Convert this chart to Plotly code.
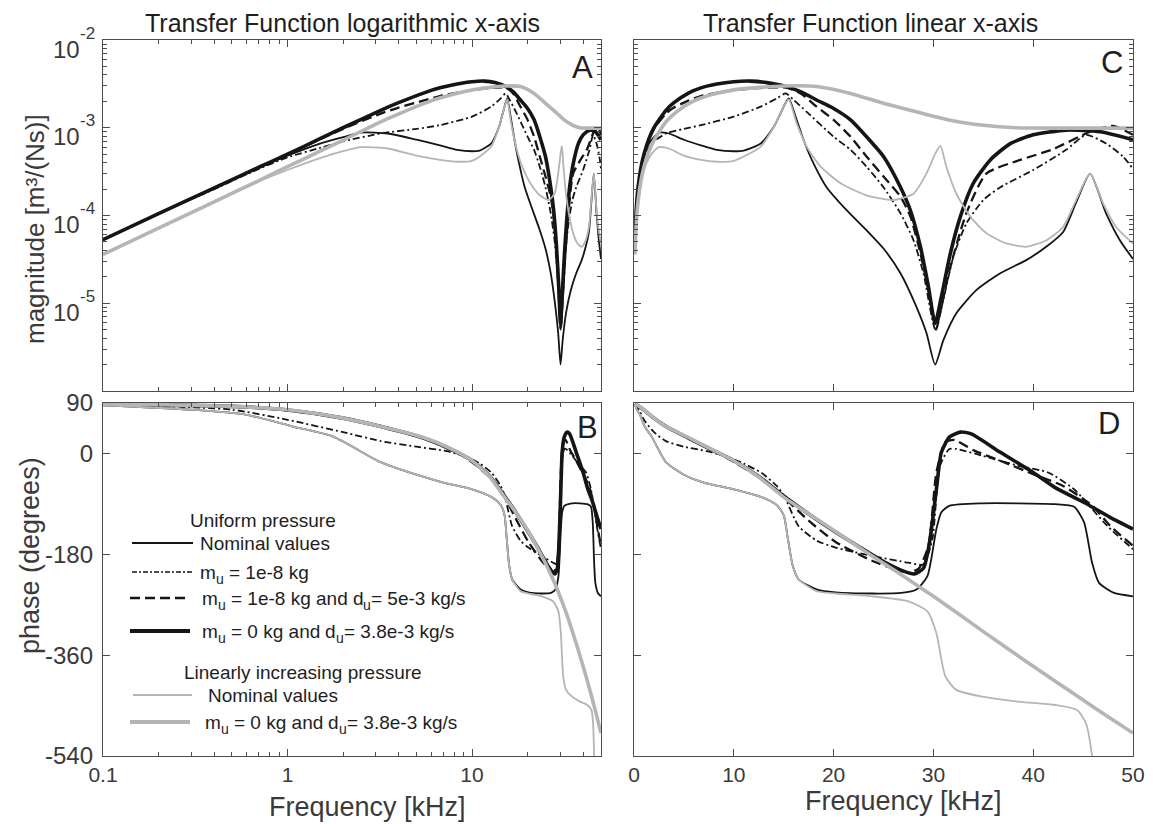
import math
import plotly.graph_objects as go

# ---------------------------------------------------------------
# Frequency response of the membrane model, frequency in kHz.
# Magnitude in m^3/(Ns), phase in degrees.
# ---------------------------------------------------------------

# Uniform pressure, nominal values
F_MAG_UNI_NOM = [0.1, 0.2, 0.4, 0.7, 1.0, 1.5, 2.0, 2.5, 3.5, 5.0, 6.7, 8.3, 10.0, 11.0, 12.7,
                 14.0, 15.0, 15.5, 16.3, 17.0, 18.0, 19.3, 21.3, 23.3, 25.0, 26.7, 28.3, 29.3,
                 30.17, 31.0, 32.3, 34.3, 36.7, 39.3, 41.3, 43.0, 44.3, 45.7, 47.3, 48.7, 50.0]
MAG_UNI_NOM = [5.3e-5, 1.05e-4, 2.1e-4, 3.5e-4, 4.8e-4, 6.6e-4, 7.8e-4, 8.8e-4, 8.6e-4, 7.3e-4,
               6.3e-4, 5.6e-4, 5.4e-4, 5.5e-4, 6.6e-4, 1.02e-3, 1.74e-3, 2.16e-3, 1.23e-3, 7.2e-4,
               3.9e-4, 2.1e-4, 1.15e-4, 6.8e-5, 4.2e-5, 2.2e-5, 9.1e-6, 4.6e-6, 2.0e-6, 3.8e-6,
               7.7e-6, 1.41e-5, 2.2e-5, 3.1e-5, 4.4e-5, 6.5e-5, 1.4e-4, 3.0e-4, 1.06e-4, 5.2e-5,
               3.2e-5]
F_PH_UNI_NOM = [0.1, 0.3, 0.6, 1.07, 1.77, 3.17, 5.0, 7.0, 10.0, 12.8, 14.3, 15.0, 15.4, 15.9,
                16.5, 18.35, 20.2, 23.9, 26.8, 28.3, 29.4, 30.3, 30.8, 31.6, 34.9, 38.5, 42.2,
                44.1, 45.1, 45.9, 46.6, 48.1, 50.0]
PH_UNI_NOM = [86, 78, 69, 48, 30, -15, -38, -52, -64, -78, -92, -110, -150, -200, -225, -243,
              -248, -250, -249, -243, -219, -135, -105, -93.5, -89, -89, -90.5, -95, -123, -195,
              -231, -249, -255]

# Uniform pressure, m_u = 1e-8 kg
F_MAG_UNI_M8 = [0.1, 0.2, 0.4, 0.7, 1.0, 1.5, 2.0, 3.3, 5.0, 6.7, 10.0, 12.7, 14.3, 15.2, 16.0,
                17.3, 20.0, 21.7, 23.3, 25.0, 26.7, 28.0, 29.0, 30.2, 31.0, 32.0, 33.3, 35.0,
                36.7, 40.0, 43.3, 45.3, 47.3, 49.0, 50.0]
MAG_UNI_M8 = [5.3e-5, 1.05e-4, 2.0e-4, 3.4e-4, 4.6e-4, 5.9e-4, 7.0e-4, 8.7e-4, 9.7e-4, 1.07e-3,
              1.34e-3, 1.74e-3, 2.16e-3, 2.46e-3, 2.07e-3, 1.52e-3, 7.9e-4, 5.6e-4, 3.6e-4,
              2.1e-4, 1.06e-4, 5.25e-5, 2.2e-5, 5.0e-6, 1.1e-5, 3.4e-5, 8.1e-5, 1.5e-4, 2.1e-4,
              3.3e-4, 5.6e-4, 8.3e-4, 6.6e-4, 4.7e-4, 3.4e-4]
F_PH_UNI_M8 = [0.1, 0.5, 1.0, 2.0, 3.2, 5.0, 7.3, 9.2, 11.0, 12.8, 14.3, 15.05, 16.5, 18.35,
               20.2, 23.9, 27.5, 29.0, 29.9, 30.65, 31.6, 32.3, 34.9, 38.5, 41.5, 44.1, 45.9,
               47.4, 50.0]
PH_UNI_M8 = [88, 78, 60, 38, 22, 12, 4, -5, -18, -35, -58, -76, -130, -156, -168, -183, -195,
             -198, -153, -22, 8, 8, -4, -22, -34, -64, -99, -129, -171]

# Uniform pressure, m_u = 1e-8 kg and d_u = 5e-3 kg/s
F_MAG_UNI_DU5 = [0.1, 0.2, 0.4, 0.7, 1.0, 1.5, 2.0, 3.2, 4.0, 5.5, 6.7, 10.0, 13.3, 15.3, 16.7,
                 18.3, 20.0, 21.7, 23.3, 25.0, 26.7, 27.7, 28.7, 29.7, 30.27, 30.8, 31.7, 33.3,
                 35.3, 38.7, 42.0, 45.7, 48.0, 50.0]
MAG_UNI_DU5 = [5.3e-5, 1.05e-4, 2.05e-4, 3.5e-4, 5.0e-4, 7.4e-4, 9.7e-4, 1.45e-3, 1.7e-3,
               2.05e-3, 2.3e-3, 2.69e-3, 2.86e-3, 2.86e-3, 2.46e-3, 1.74e-3, 1.23e-3, 7.9e-4,
               4.7e-4, 2.78e-4, 1.64e-4, 9.7e-5, 3.7e-5, 1.09e-5, 5.0e-6, 9.1e-6, 2.6e-5, 1.06e-4,
               3.0e-4, 4.3e-4, 5.7e-4, 9.0e-4, 1.05e-3, 8.3e-4]
F_PH_UNI_DU5 = [0.1, 0.5, 1.0, 2.0, 3.7, 5.5, 9.2, 12.8, 15.0, 17.5, 20.2, 23.9, 26.4, 27.5,
                28.5, 29.5, 30.3, 31.2, 32.1, 34.1, 36.7, 40.0, 43.0, 45.9, 47.7, 50.0]
PH_UNI_DU5 = [88.5, 84, 77, 63, 44, 27, -7, -46, -78, -120, -158, -192, -208, -212, -206, -165,
              -34, 20, 24, 5, -13, -37, -58, -93, -129, -165]

# Uniform pressure, m_u = 0 kg and d_u = 3.8e-3 kg/s
F_MAG_UNI_M0 = [0.1, 0.2, 0.4, 0.7, 1.0, 1.5, 2.0, 3.2, 4.0, 5.5, 6.7, 8.3, 10.0, 11.7, 13.3,
                15.3, 16.8, 18.3, 20.0, 21.7, 23.3, 25.0, 26.7, 27.7, 28.7, 29.5, 30.17, 30.8,
                31.7, 32.7, 34.0, 35.7, 37.7, 40.0, 43.3, 46.7, 50.0]
MAG_UNI_M0 = [5.3e-5, 1.05e-4, 2.05e-4, 3.55e-4, 5.0e-4, 7.5e-4, 1.0e-3, 1.58e-3, 1.93e-3,
              2.5e-3, 2.85e-3, 3.15e-3, 3.35e-3, 3.4e-3, 3.27e-3, 2.94e-3, 2.55e-3, 2.07e-3,
              1.66e-3, 1.23e-3, 7.9e-4, 4.7e-4, 2.1e-4, 1.14e-4, 4.4e-5, 1.55e-5, 5.9e-6,
              1.19e-5, 3.7e-5, 9.7e-5, 2.33e-4, 4.3e-4, 6.6e-4, 8.3e-4, 9.4e-4, 9.0e-4, 7.3e-4]
F_PH_UNI_M0 = [0.1, 0.5, 1.0, 2.0, 3.2, 5.5, 7.5, 10, 12.5, 15, 17.5, 20, 22.5, 25, 27.0, 28.1,
               29.0, 29.6, 30.3, 30.8, 31.6, 32.7, 33.8, 36.7, 40.0, 42.2, 45.1, 47.7, 50.0]
PH_UNI_M0 = [88.5, 84, 77.5, 63, 48, 27, 9, -13, -41, -76, -108, -138, -166, -193, -210, -215,
             -205, -160, -64, 2, 29, 38, 35, 2, -34, -61, -87.5, -114, -135]

# Linearly increasing pressure, nominal values
F_MAG_LIN_NOM = [0.1, 0.2, 0.4, 0.7, 1.0, 1.5, 2.0, 2.5, 3.5, 5.0, 6.7, 8.3, 10.0, 11.0, 12.7,
                 14.0, 15.0, 15.5, 16.3, 17.3, 18.7, 20.7, 23.3, 26.0, 28.0, 29.3, 30.2, 30.7,
                 31.3, 32.3, 33.7, 35.3, 37.3, 39.3, 41.3, 43.0, 44.3, 45.7, 47.0, 48.3, 50.0]
MAG_LIN_NOM = [3.6e-5, 7.2e-5, 1.42e-4, 2.45e-4, 3.3e-4, 4.5e-4, 5.4e-4, 6.0e-4, 5.8e-4, 4.8e-4,
               4.3e-4, 4.1e-4, 4.2e-4, 4.7e-4, 6.1e-4, 1.02e-3, 1.74e-3, 2.1e-3, 1.12e-3, 6.1e-4,
               3.6e-4, 2.33e-4, 1.7e-4, 1.5e-4, 1.77e-4, 3.0e-4, 5.1e-4, 6.2e-4, 3.6e-4, 1.77e-4,
               9.7e-5, 6.3e-5, 4.8e-5, 4.4e-5, 5.2e-5, 7.4e-5, 1.5e-4, 3.0e-4, 1.38e-4, 7.4e-5,
               4.8e-5]
F_PH_LIN_NOM = [0.1, 0.3, 0.6, 1.07, 1.77, 3.17, 5.0, 7.0, 10.0, 12.8, 14.3, 15.0, 15.4, 15.9,
                16.5, 18.35, 20.2, 23.9, 27.5, 29.4, 30.3, 31.2, 32.3, 34.9, 38.5, 42.2, 44.4,
                45.3, 45.9, 46.2]
PH_LIN_NOM = [86, 78, 69, 48, 30, -15, -38, -52, -64, -78, -92, -110, -150, -200, -225, -246,
              -250, -255, -264, -282, -321, -398, -422, -434, -443, -449, -458, -482, -540, -600]

# Linearly increasing pressure, m_u = 0 kg and d_u = 3.8e-3 kg/s
F_MAG_LIN_M0 = [0.1, 0.2, 0.4, 0.7, 1.0, 1.5, 2.0, 3.2, 4.2, 5.9, 8.0, 10.0, 12.0, 15.0, 18.3,
                21.7, 25.0, 28.3, 31.7, 35.0, 38.3, 43.3, 50.0]
MAG_LIN_M0 = [3.6e-5, 7.2e-5, 1.43e-4, 2.5e-4, 3.6e-4, 5.4e-4, 7.2e-4, 1.17e-3, 1.5e-3,
              2.0e-3, 2.42e-3, 2.7e-3, 2.85e-3, 2.99e-3, 2.95e-3, 2.46e-3, 1.9e-3, 1.52e-3,
              1.22e-3, 1.07e-3, 1.0e-3, 9.9e-4, 9.9e-4]
F_PH_LIN_M0 = [0.1, 0.5, 1.0, 2.0, 3.2, 5.5, 7.5, 10, 12.5, 15, 17.5, 20, 22.5, 25, 27.5, 30,
               32.5, 35, 37.5, 40, 42.5, 45, 47.5, 50]
PH_LIN_M0 = [88.8, 84, 78, 63, 48, 28, 10, -13, -42, -78, -108, -137, -167, -196, -225, -255,
             -286, -318, -349, -380, -410, -440, -470, -499]

# tick values
MAG_TICKS = [1e-5, 1e-4, 1e-3, 1e-2]
PH_TICKS = [-540, -360, -180, 0, 90]
LIN_TICKS = [0, 10, 20, 30, 40, 50]
LOG_TICKS = [0.1, 1, 10]

# ---------------------------------------------------------------
# styling
# ---------------------------------------------------------------
W, H = 1153, 824
# plotting area (pixels): left/right/top/bottom edges of the 2 x 2 panel block
PL, PR, PT, PB = 103, 1133, 40, 756
FONT = "Liberation Sans, Arial, Helvetica, sans-serif"
AXC = "#4d4d4d"
TXT = "#3a3a3a"
INK = "#1e1e1e"
BLACK = "#151515"
GRAY = "#b5b5b5"

# advance widths of Liberation Sans / Arial glyphs (fraction of the font size)
ADV = {" ": 0.278, "-": 0.333, ".": 0.278, "/": 0.278, "=": 0.584, "N": 0.722, "a": 0.556,
       "d": 0.556, "e": 0.556, "g": 0.556, "i": 0.222, "k": 0.5, "l": 0.222, "m": 0.833,
       "n": 0.556, "o": 0.556, "s": 0.5, "u": 0.556, "v": 0.5}
ADV.update({str(i): 0.556 for i in range(10)})

SERIES = [
    # (freq_mag, mag, freq_phase, phase, colour, width, dash)
    (F_MAG_UNI_NOM, MAG_UNI_NOM, F_PH_UNI_NOM, PH_UNI_NOM, BLACK, 1.8, "solid"),
    (F_MAG_UNI_M8, MAG_UNI_M8, F_PH_UNI_M8, PH_UNI_M8, BLACK, 1.8, "7px,3px,2px,3px"),
    (F_MAG_UNI_DU5, MAG_UNI_DU5, F_PH_UNI_DU5, PH_UNI_DU5, BLACK, 2.3, "10px,5px"),
    (F_MAG_UNI_M0, MAG_UNI_M0, F_PH_UNI_M0, PH_UNI_M0, BLACK, 3.6, "solid"),
    (F_MAG_LIN_NOM, MAG_LIN_NOM, F_PH_LIN_NOM, PH_LIN_NOM, GRAY, 1.8, "solid"),
    (F_MAG_LIN_M0, MAG_LIN_M0, F_PH_LIN_M0, PH_LIN_M0, GRAY, 3.6, "solid"),
]


def px_x(x):
    """page pixel -> paper x (relative to the plotting area)"""
    return (x - PL) / (PR - PL)


def px_y(y):
    """page pixel -> paper y (relative to the plotting area)"""
    return (PB - y) / (PB - PT)


fig = go.Figure()

for fm, mag, fp, ph, col, lw, dash in SERIES:
    line = dict(color=col, width=lw, dash=dash, shape="spline", smoothing=0.6)
    fig.add_trace(go.Scatter(x=fm, y=mag, mode="lines", line=line, xaxis="x", yaxis="y",
                             showlegend=False, hoverinfo="skip"))
    fig.add_trace(go.Scatter(x=fm, y=mag, mode="lines", line=line, xaxis="x2", yaxis="y2",
                             showlegend=False, hoverinfo="skip"))
    fig.add_trace(go.Scatter(x=fp, y=ph, mode="lines", line=line, xaxis="x3", yaxis="y3",
                             showlegend=False, hoverinfo="skip"))
    fig.add_trace(go.Scatter(x=fp, y=ph, mode="lines", line=line, xaxis="x4", yaxis="y4",
                             showlegend=False, hoverinfo="skip"))

DOM_X_LEFT = [0, px_x(601)]
DOM_X_RIGHT = [px_x(634), 1]
DOM_Y_TOP = [px_y(391), 1]
DOM_Y_BOT = [0, px_y(403)]

LOG_MINOR_X = [k * 10 ** e for e in (-1, 0, 1) for k in range(2, 10) if k * 10 ** e < 50]
LOG_MINOR_Y = [k * 10.0 ** e for e in (-6, -5, -4, -3) for k in range(2, 10)]

base = dict(showline=True, linecolor=AXC, linewidth=1.3, mirror="ticks", ticks="inside",
            ticklen=7, tickwidth=1.2, tickcolor=AXC, showgrid=False, zeroline=False,
            automargin=False)
minor = dict(ticks="inside", ticklen=4, tickwidth=1, tickcolor=AXC, showgrid=False)

xfont = dict(family=FONT, size=21, color=TXT)
yfont = dict(family=FONT, size=24, color=TXT)

fig.update_layout(
    width=W, height=H,
    margin=dict(l=PL, r=W - PR, t=PT, b=H - PB, pad=0),
    font=dict(family=FONT, size=20, color=TXT),
    paper_bgcolor="white", plot_bgcolor="white", showlegend=False,
    xaxis=dict(base, type="log", domain=DOM_X_LEFT, range=[-1, math.log10(50)], anchor="y",
               tickvals=LOG_TICKS, showticklabels=False,
               minor=dict(minor, tickvals=LOG_MINOR_X)),
    yaxis=dict(base, type="log", domain=DOM_Y_TOP, range=[-6, -2], anchor="x",
               tickvals=MAG_TICKS, showticklabels=False,
               minor=dict(minor, tickvals=LOG_MINOR_Y)),
    xaxis2=dict(base, domain=DOM_X_RIGHT, range=[0, 50], anchor="y2",
                tickvals=LIN_TICKS, showticklabels=False),
    yaxis2=dict(base, type="log", domain=DOM_Y_TOP, range=[-6, -2], anchor="x2",
                tickvals=MAG_TICKS, showticklabels=False,
                minor=dict(minor, tickvals=LOG_MINOR_Y)),
    xaxis3=dict(base, type="log", domain=DOM_X_LEFT, range=[-1, math.log10(50)], anchor="y3",
                tickvals=LOG_TICKS, ticktext=["0.1", "1", "10"], tickfont=xfont,
                minor=dict(minor, tickvals=LOG_MINOR_X)),
    yaxis3=dict(base, domain=DOM_Y_BOT, range=[-540, 90], anchor="x3",
                tickvals=PH_TICKS, ticktext=[str(v) for v in PH_TICKS], tickfont=yfont,
                ticklabelstandoff=4),
    xaxis4=dict(base, domain=DOM_X_RIGHT, range=[0, 50], anchor="y4",
                tickvals=LIN_TICKS, ticktext=[str(v) for v in LIN_TICKS], tickfont=xfont),
    yaxis4=dict(base, domain=DOM_Y_BOT, range=[-540, 90], anchor="x4",
                tickvals=PH_TICKS, showticklabels=False),
)

ann = []


def text(x, y, s, size, color=TXT, anchor="center", angle=0, yref="paper", yshift=0):
    """place a text; x in page pixels, y in page pixels (or axis units for an axis yref)"""
    ann.append(dict(x=px_x(x), y=px_y(y) if yref == "paper" else y, xref="paper", yref=yref,
                    text=s, showarrow=False, xanchor=anchor, yanchor="middle",
                    textangle=angle, yshift=yshift, borderpad=0, borderwidth=0,
                    font=dict(family=FONT, size=size, color=color)))


def runs(x, y, parts, color):
    """lay out text pieces of different size / baseline one after another"""
    cx = x
    for s, size, dy in parts:
        lead = len(s) - len(s.lstrip(" "))
        body = s.strip(" ")
        cx += lead * ADV[" "] * size
        text(cx, y + dy, body, size, color, anchor="left")
        cx += sum(ADV[c] for c in body) * size
        cx += (len(s) - lead - len(body)) * ADV[" "] * size


# magnitude tick labels: base "10" with a raised exponent
for v in MAG_TICKS:
    e = int(round(math.log10(v)))
    text(80, e, "10", 24, TXT, anchor="right", yref="y", yshift=-9)
    text(80, e, str(e), 17, TXT, anchor="left", yref="y", yshift=7)

# titles and axis labels
text(342, 23, "Transfer Function logarithmic x-axis", 25, INK)
text(870, 23, "Transfer Function linear x-axis", 25, INK)
text(35, 229, "magnitude [m\u00b3/(Ns)]", 26, TXT, angle=-90)
text(30, 556, "phase (degrees)", 27, TXT, angle=-90)
text(367, 807, "Frequency [kHz]", 27, TXT)
text(903, 801, "Frequency [kHz]", 27, TXT)

# panel letters
text(582, 67, "A", 31, INK)
text(1112, 62, "C", 31, INK)
text(587, 428, "B", 31, INK)
text(1109, 423, "D", 31, INK)

# legend inside the lower-left panel
MU = [("m", 19, 0), ("u", 14, 7)]
DU = [("d", 19, 0), ("u", 14, 7)]
LEG = [
    # (line y, x0, x1, colour, width, dash, text x, text pieces)
    (543, 132, 193, BLACK, 1.8, "solid", 200, [("Nominal values", 19, 0)]),
    (572, 132, 193, BLACK, 1.6, "5px,2px,2px,2px", 200, MU + [(" = 1e-8 kg", 19, 0)]),
    (598, 130, 187, BLACK, 2.3, "10px,5px", 202,
     MU + [(" = 1e-8 kg and ", 19, 0)] + DU + [("= 5e-3 kg/s", 19, 0)]),
    (631, 130, 190, BLACK, 3.8, "solid", 202,
     MU + [(" = 0 kg and ", 19, 0)] + DU + [("= 3.8e-3 kg/s", 19, 0)]),
    (695, 133, 192, GRAY, 2.0, "solid", 208, [("Nominal values", 19, 0)]),
    (722, 130, 190, GRAY, 3.8, "solid", 205,
     MU + [(" = 0 kg and ", 19, 0)] + DU + [("= 3.8e-3 kg/s", 19, 0)]),
]
shapes = []
for ly, x0, x1, col, lw, dash, tx, parts in LEG:
    shapes.append(dict(type="line", xref="paper", yref="paper", x0=px_x(x0), x1=px_x(x1),
                       y0=px_y(ly), y1=px_y(ly), line=dict(color=col, width=lw, dash=dash)))
    runs(tx, ly, parts, INK)
text(263, 520, "Uniform pressure", 19, INK)
text(303, 672, "Linearly increasing pressure", 19, INK)

fig.update_layout(annotations=ann, shapes=shapes)
fig.write_html("out.html")
